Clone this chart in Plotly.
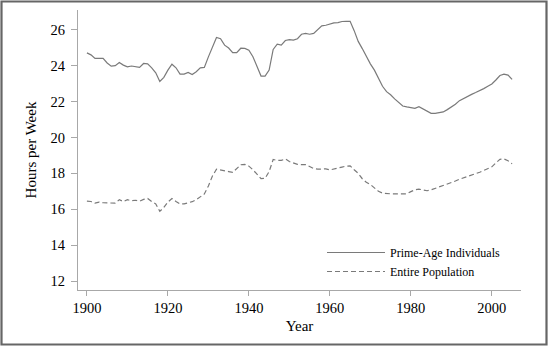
import plotly.graph_objects as go

# Average weekly hours, 1900-2005
years = list(range(1900, 2006))

prime_age = [
    24.71, 24.60, 24.40, 24.38, 24.40, 24.15, 23.97, 24.00, 24.18, 24.03,
    23.93, 23.98, 23.92, 23.90, 24.12, 24.10, 23.88, 23.60, 23.12, 23.35,
    23.75, 24.08, 23.88, 23.53, 23.53, 23.62, 23.51, 23.66, 23.88, 23.90,
    24.49, 25.04, 25.57, 25.50, 25.14, 24.98, 24.72, 24.72, 24.97, 24.96,
    24.86, 24.50, 23.95, 23.42, 23.42, 23.75, 24.90, 25.20, 25.14, 25.40,
    25.45, 25.42, 25.50, 25.75, 25.80, 25.75, 25.80, 26.00, 26.22, 26.25,
    26.33, 26.38, 26.40, 26.46, 26.47, 26.47, 25.95, 25.35, 24.95, 24.49,
    24.10, 23.75, 23.30, 22.85, 22.55, 22.38, 22.15, 21.95, 21.75, 21.70,
    21.68, 21.62, 21.71, 21.58, 21.44, 21.34, 21.34, 21.36, 21.42, 21.55,
    21.68, 21.85, 22.05, 22.18, 22.28, 22.40, 22.50, 22.60, 22.72, 22.85,
    22.98, 23.20, 23.45, 23.53, 23.47, 23.23,
]

entire_pop = [
    16.45, 16.43, 16.34, 16.40, 16.36, 16.34, 16.34, 16.34, 16.53, 16.43,
    16.53, 16.47, 16.50, 16.45, 16.55, 16.60, 16.43, 16.30, 15.88, 16.10,
    16.40, 16.60, 16.43, 16.30, 16.30, 16.36, 16.42, 16.53, 16.70, 16.85,
    17.30, 17.85, 18.23, 18.20, 18.15, 18.10, 18.05, 18.28, 18.48, 18.50,
    18.40, 18.20, 17.96, 17.70, 17.72, 18.10, 18.77, 18.72, 18.72, 18.80,
    18.66, 18.58, 18.50, 18.48, 18.48, 18.38, 18.27, 18.23, 18.26, 18.25,
    18.19, 18.23, 18.30, 18.35, 18.40, 18.42, 18.20, 18.00, 17.70, 17.50,
    17.38, 17.18, 17.00, 16.90, 16.86, 16.86, 16.86, 16.86, 16.86, 16.86,
    16.98, 17.08, 17.12, 17.06, 17.03, 17.08, 17.16, 17.22, 17.30, 17.38,
    17.48, 17.57, 17.67, 17.74, 17.80, 17.90, 17.98, 18.06, 18.15, 18.25,
    18.36, 18.58, 18.78, 18.80, 18.70, 18.53,
]

x_ticks = [1900, 1920, 1940, 1960, 1980, 2000]
y_ticks = [12, 14, 16, 18, 20, 22, 24, 26]

W, H = 550, 348
ML, MR, MT, MB = 78, 29, 10, 58
SERIF = "Liberation Serif, Times New Roman, serif"
LINE_GRAY = "#7a7a7a"
AXIS_GRAY = "#a8a8a8"

fig = go.Figure()
fig.add_trace(go.Scatter(
    x=years, y=prime_age, mode="lines", name="Prime-Age Individuals",
    line=dict(color=LINE_GRAY, width=1.2),
))
fig.add_trace(go.Scatter(
    x=years, y=entire_pop, mode="lines", name="Entire Population",
    line=dict(color=LINE_GRAY, width=1.2, dash="5px,3px"),
))

# frame round the whole picture, expressed in paper units
pw, ph = W - ML - MR, H - MT - MB
def px_to_paper_x(px):
    return (px - ML) / pw
def px_to_paper_y(py):
    return (H - MB - py) / ph

fig.add_shape(
    type="rect", xref="paper", yref="paper",
    x0=px_to_paper_x(1.5), x1=px_to_paper_x(W - 3.5),
    y0=px_to_paper_y(H - 3.5), y1=px_to_paper_y(1.5),
    line=dict(color="#666666", width=2.2), fillcolor="rgba(0,0,0,0)",
    layer="above",
)

fig.update_layout(
    width=W, height=H,
    margin=dict(l=ML, r=MR, t=MT, b=MB, pad=0),
    paper_bgcolor="white", plot_bgcolor="white",
    font=dict(family=SERIF, color="black", size=14.5),
    showlegend=True,
    legend=dict(
        x=px_to_paper_x(322), y=px_to_paper_y(238), xanchor="left", yanchor="top",
        bgcolor="rgba(0,0,0,0)", font=dict(family=SERIF, size=12),
        itemwidth=58, tracegroupgap=0,
    ),
    xaxis=dict(
        range=[1897.8, 2007.2], tickvals=x_ticks, showgrid=False, zeroline=False,
        showline=True, linecolor=AXIS_GRAY, linewidth=1,
        ticks="outside", ticklen=5, tickcolor=AXIS_GRAY,
        tickfont=dict(family=SERIF, size=14.5, color="black"),
        title=dict(text="Year", font=dict(family=SERIF, size=15), standoff=5),
    ),
    yaxis=dict(
        range=[11.5, 27.1], tickvals=y_ticks, showgrid=False, zeroline=False,
        showline=True, linecolor=AXIS_GRAY, linewidth=1,
        ticks="outside", ticklen=6, tickcolor=AXIS_GRAY, ticklabelstandoff=3,
        tickfont=dict(family=SERIF, size=14.5, color="black"),
        title=dict(text="Hours per Week", font=dict(family=SERIF, size=15), standoff=10),
    ),
)

fig.write_html("out.html")
